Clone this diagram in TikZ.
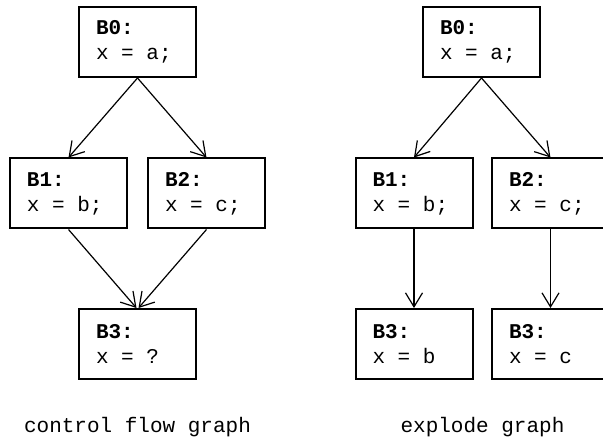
\documentclass[tikz,border=0pt]{standalone}
\usepackage{fontspec}
\setmonofont{Liberation Mono}
\usetikzlibrary{arrows.meta}

\tikzset{
    block/.style={draw, line width=2pt, minimum width=117pt, minimum height=70pt,
        inner xsep=17pt, text width=83pt, align=left,
        font=\fontsize{21}{25}\selectfont\ttfamily,
        execute at begin node={\spaceskip=0pt\xspaceskip=0pt}},
    caption/.style={font=\fontsize{21}{25}\selectfont\ttfamily},
    flow/.style={line width=1.2pt, -{Straight Barb[length=14pt,width=17pt,line width=1.2pt]}}
}

\begin{document}
\begin{tikzpicture}[x=1pt,y=-1pt]
    \useasboundingbox (0,0) rectangle (603,441);
    % control flow graph
    \path (137.5, 42) node [block] (cb0) {\textbf{B0:}\\x = a;};
    \path ( 68.5,193.5) node [block] (cb1) {\textbf{B1:}\\x = b;};
    \path (206.5,193.5) node [block] (cb2) {\textbf{B2:}\\x = c;};
    \path (137.5,344) node [block] (cb3) {\textbf{B3:}\\x = ?};
    \draw [flow] (cb0.south) -- (cb1.north);
    \draw [flow] (cb0.south) -- (cb2.north);
    \draw [flow] (cb1.south) -- ([xshift=-1pt]cb3.north);
    \draw [flow] (cb2.south) -- ([xshift=1pt]cb3.north);
    \path (137.5,427) node [caption] (ccap) {control flow graph};
    % explode graph
    \path (481.5, 42) node [block] (eb0) {\textbf{B0:}\\x = a;};
    \path (414,193.5) node [block] (eb1) {\textbf{B1:}\\x = b;};
    \path (550.5,193.5) node [block] (eb2) {\textbf{B2:}\\x = c;};
    \path (414,344) node [block] (eb3b) {\textbf{B3:}\\x = b};
    \path (550.5,344) node [block] (eb3c) {\textbf{B3:}\\x = c};
    \draw [flow] (eb0.south) -- (eb1.north);
    \draw [flow] (eb0.south) -- (eb2.north);
    \draw [flow] (eb1.south) -- (eb3b.north);
    \draw [flow] (eb2.south) -- (eb3c.north);
    \path (482.5,427) node [caption] (ecap) {explode graph};
\end{tikzpicture}
\end{document}
